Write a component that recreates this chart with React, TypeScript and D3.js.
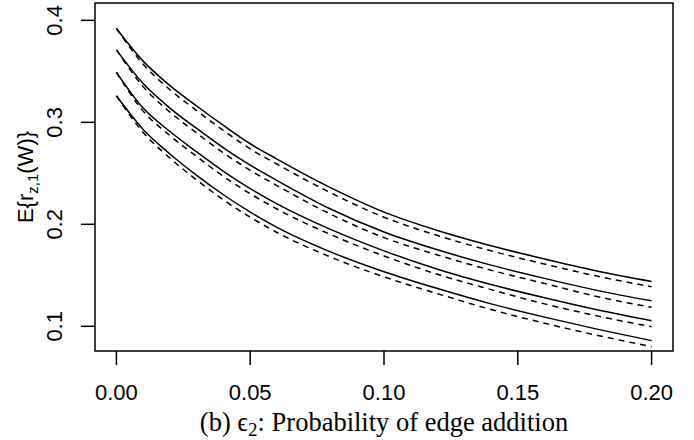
import * as d3 from 'd3'
import React from 'react'

// probability of edge addition (x)
const eps2 = [0, 0.01, 0.02, 0.03, 0.04, 0.05, 0.06, 0.08, 0.10, 0.12, 0.14, 0.16, 0.18, 0.20]

// solid curves
const solid1 = [0.392, 0.360, 0.336, 0.316, 0.297, 0.279, 0.264, 0.236, 0.212, 0.194, 0.179, 0.166, 0.154, 0.144]
const solid2 = [0.371, 0.338, 0.314, 0.294, 0.275, 0.258, 0.243, 0.215, 0.1925, 0.175, 0.160, 0.147, 0.135, 0.125]
const solid3 = [0.349, 0.314, 0.291, 0.271, 0.252, 0.235, 0.220, 0.195, 0.174, 0.156, 0.141, 0.128, 0.116, 0.1055]
const solid4 = [0.326, 0.293, 0.269, 0.248, 0.229, 0.212, 0.197, 0.173, 0.1535, 0.137, 0.122, 0.109, 0.097, 0.086]

// dashed curves
const dashed1 = [0.392, 0.357, 0.332, 0.3115, 0.292, 0.274, 0.259, 0.231, 0.207, 0.189, 0.174, 0.161, 0.149, 0.1388]
const dashed2 = [0.371, 0.335, 0.310, 0.2895, 0.270, 0.253, 0.238, 0.210, 0.187, 0.170, 0.155, 0.142, 0.129, 0.1186]
const dashed3 = [0.349, 0.311, 0.287, 0.2665, 0.247, 0.230, 0.215, 0.190, 0.169, 0.151, 0.136, 0.122, 0.110, 0.0996]
const dashed4 = [0.326, 0.290, 0.265, 0.2435, 0.224, 0.207, 0.192, 0.168, 0.1485, 0.132, 0.1165, 0.103, 0.091, 0.080]

const xTicks = [0, 0.05, 0.10, 0.15, 0.20]
const yTicks = [0.1, 0.2, 0.3, 0.4]

export default function App() {
    const width = 694
    const height = 440
    const left = 95, right = 673, top = 3, bottom = 351

    const x = d3.scaleLinear().domain([-0.008, 0.208]).range([left, right])
    const y = d3.scaleLinear().domain([0.0758, 0.417]).range([bottom, top])

    const line = d3.line<number>()
        .x((d, i) => x(eps2[i]))
        .y(d => y(d))
        .curve(d3.curveMonotoneX)

    const solids = [solid1, solid2, solid3, solid4]
    const dashes = [dashed1, dashed2, dashed3, dashed4]
    const sans = "'Liberation Sans', Arial, sans-serif"
    const serif = "'Liberation Serif', 'Times New Roman', serif"

    return (
        <svg width={width} height={height} style={{ position: 'absolute', left: 0, top: 0, background: '#fff' }}>
            {solids.map((s, i) => (
                <path key={'s' + i} d={line(s) || ''} fill="none" stroke="#000" strokeWidth={1.5} />
            ))}
            {dashes.map((s, i) => (
                <path key={'d' + i} d={line(s) || ''} fill="none" stroke="#000" strokeWidth={1.5} strokeDasharray="6,5" />
            ))}
            <rect x={left} y={top} width={right - left} height={bottom - top} fill="none" stroke="#000" strokeWidth={1.5} />

            {xTicks.map(t => (
                <g key={'x' + t}>
                    <line x1={x(t)} x2={x(t)} y1={bottom} y2={bottom + 14} stroke="#000" strokeWidth={1.5} />
                    <text x={x(t)} y={400} textAnchor="middle" fontFamily={sans} fontSize={22}>{t.toFixed(2)}</text>
                </g>
            ))}
            {yTicks.map(t => (
                <g key={'y' + t}>
                    <line x1={left - 14} x2={left} y1={y(t)} y2={y(t)} stroke="#000" strokeWidth={1.5} />
                    <text transform={`translate(62,${y(t)}) rotate(-90)`} textAnchor="middle" fontFamily={sans} fontSize={22}>{t.toFixed(1)}</text>
                </g>
            ))}

            <text transform={`translate(33,${(top + bottom) / 2}) rotate(-90)`} textAnchor="middle" fontFamily={sans} fontSize={22}>
                E{'{'}r<tspan fontSize={15} dy={5}>z,1</tspan><tspan dy={-5}>(W){'}'}</tspan>
            </text>

            <text x={(left + right) / 2} y={431} textAnchor="middle" fontFamily={serif} fontSize={26.5}>
                (b) ϵ<tspan fontSize={19} dy={5}>2</tspan><tspan dy={-5}>: Probability of edge addition</tspan>
            </text>
        </svg>
    )
}
